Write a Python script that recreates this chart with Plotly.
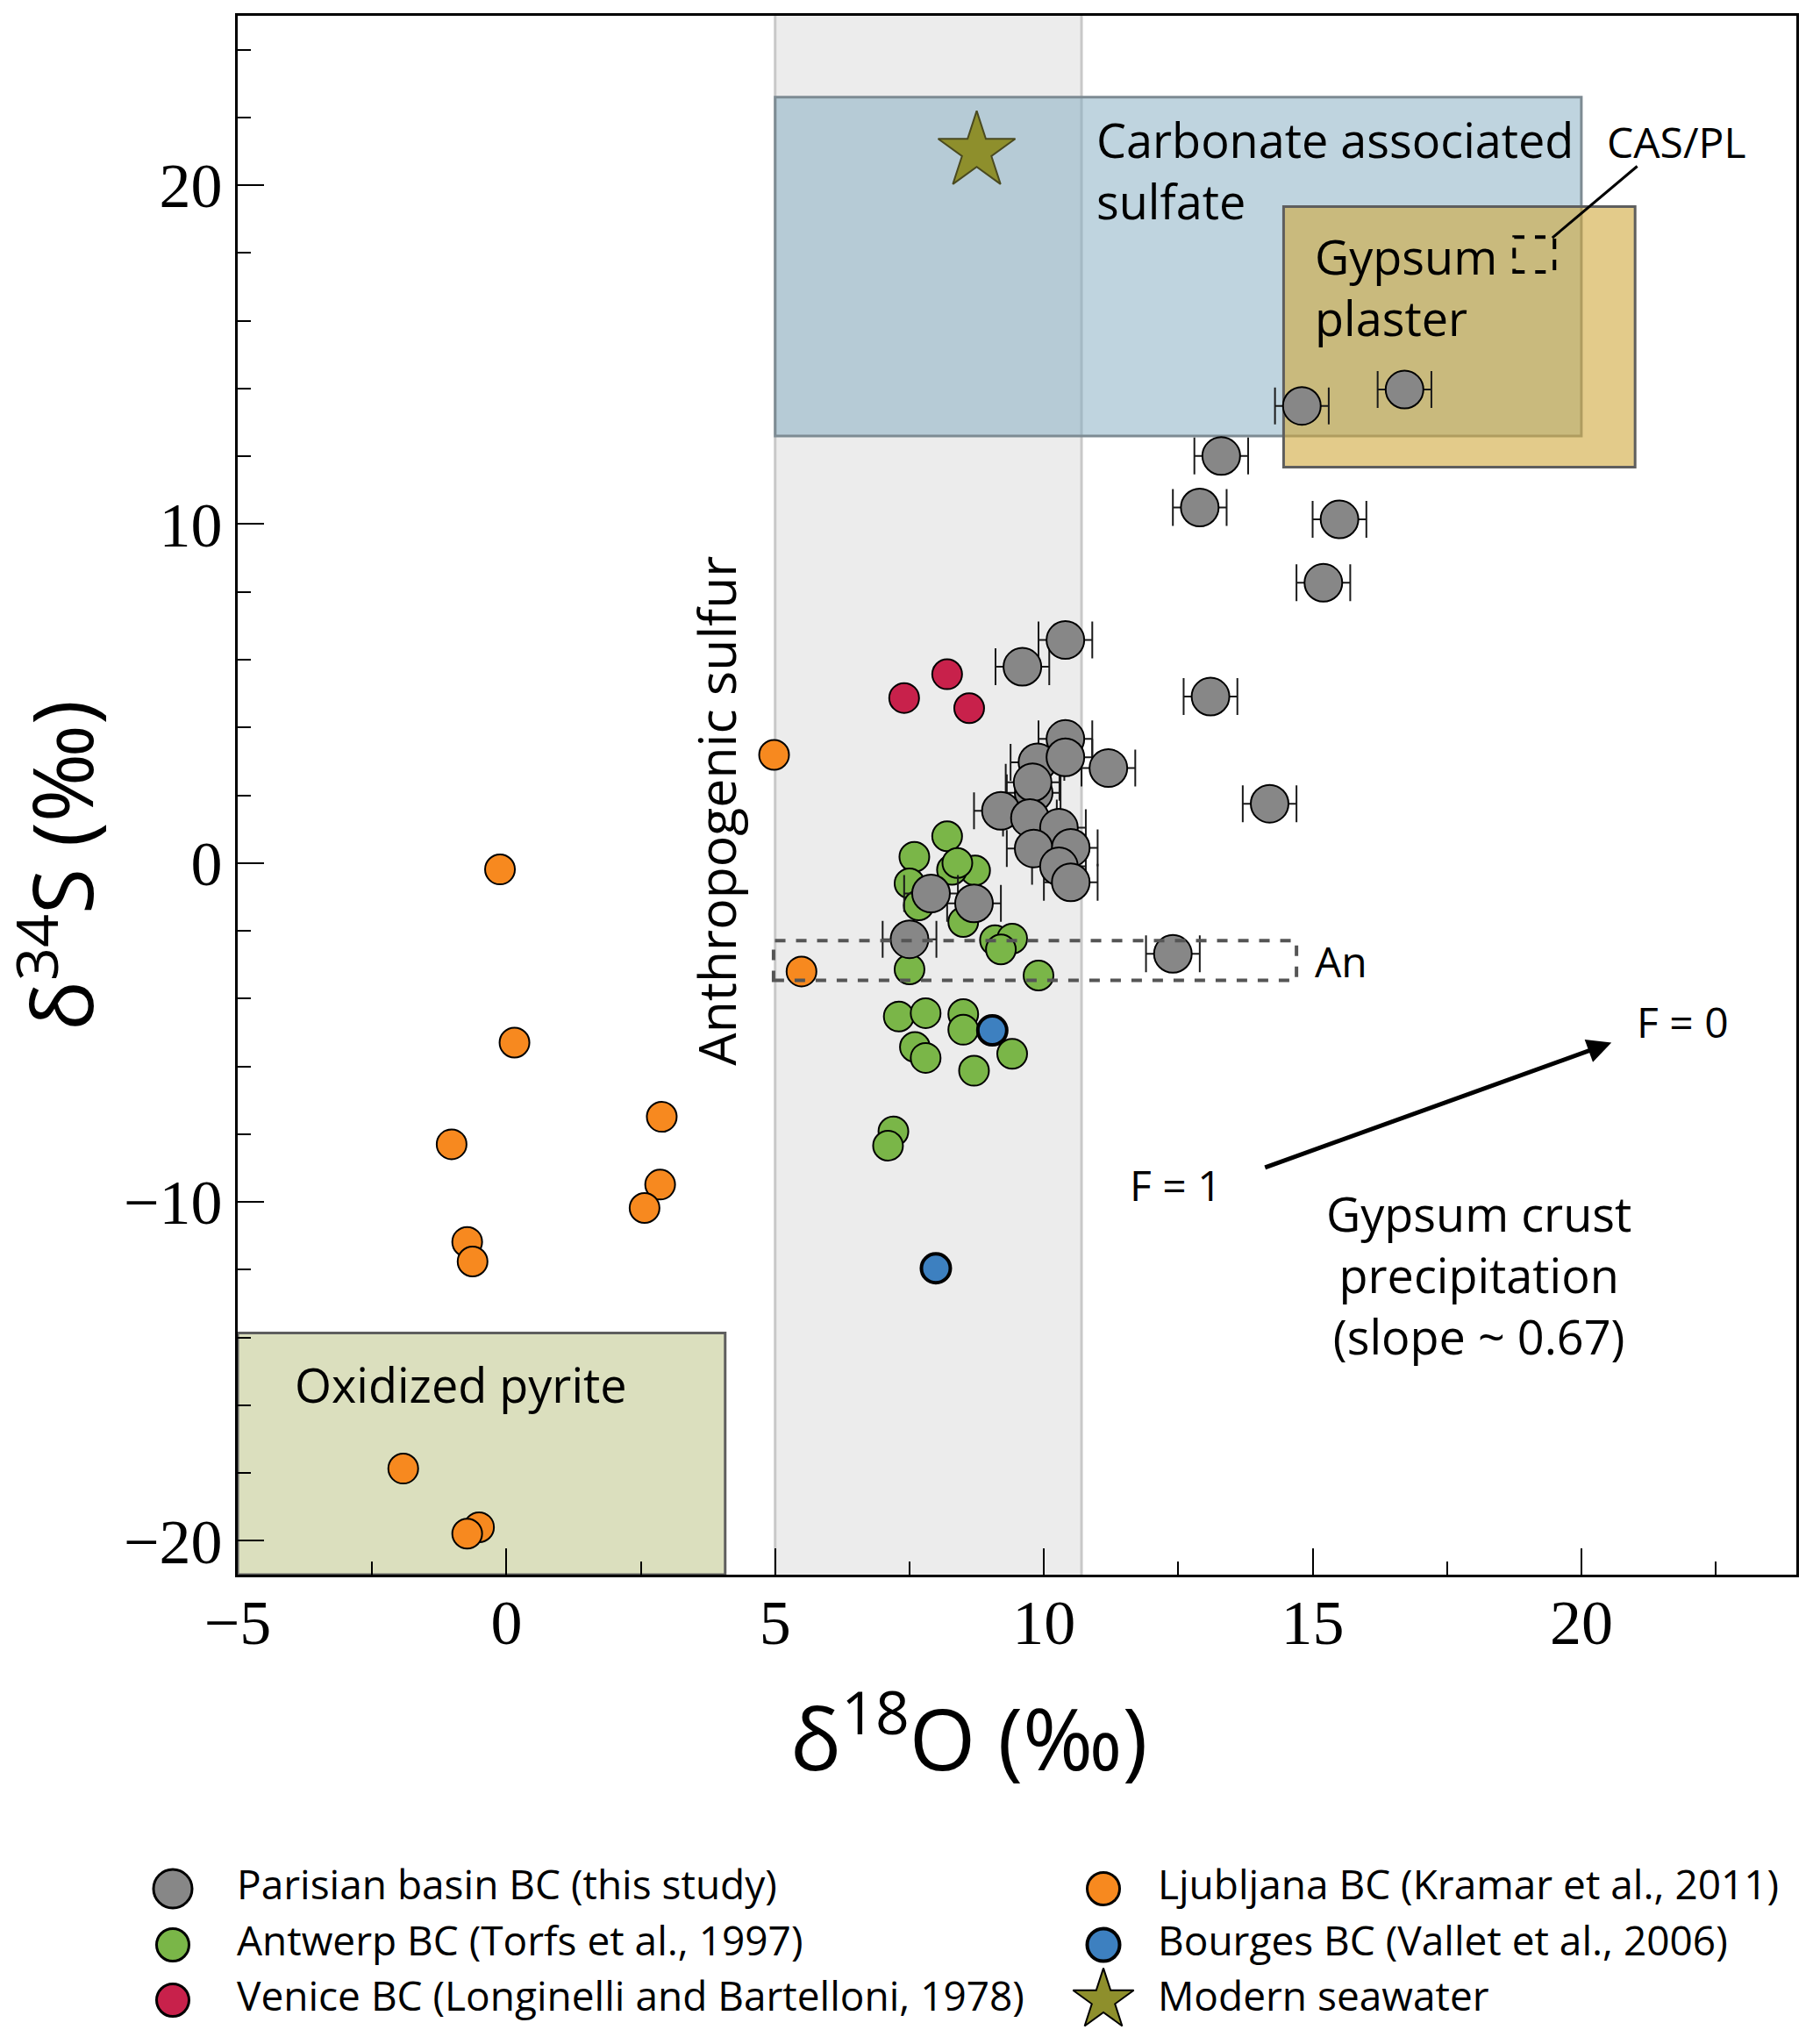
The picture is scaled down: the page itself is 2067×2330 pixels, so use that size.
import plotly.graph_objects as go

W, H = 2067, 2330
OFF = 8  # the page draws the figure 8px down/right, pull the layout back by that much

# Parisian basin BC (this study), with +/- error on d18O
paris_x = [14.80, 16.71, 13.30, 12.90, 15.50, 15.20, 10.40, 9.60, 13.10, 10.40, 9.88, 10.40, 11.20, 9.81,
           9.79, 9.20, 14.20, 9.74, 10.28, 9.81, 10.50, 10.28, 10.50, 7.90, 8.70, 7.50, 12.40]
paris_y = [13.49, 13.97, 12.01, 10.49, 10.14, 8.27, 6.58, 5.79, 4.91, 3.66, 2.97, 3.12, 2.80, 2.07,
           2.38, 1.54, 1.75, 1.33, 1.04, 0.43, 0.45, -0.10, -0.57, -0.90, -1.19, -2.25, -2.68]
paris_err = [0.5, 0.5, 0.5, 0.5, 0.5, 0.5, 0.5, 0.5, 0.5, 0.5, 0.5, 0.5, 0.5, 0.5,
             0.5, 0.5, 0.5, 0.5, 0.5, 0.5, 0.5, 0.5, 0.5, 0.5, 0.5, 0.5, 0.5]

# Antwerp BC (Torfs et al., 1997)
antwerp_x = [8.20, 7.59, 8.72, 8.29, 8.39, 7.50, 7.67, 8.50, 7.50, 9.09, 9.41, 9.20, 9.90, 7.30, 7.80,
             8.50, 8.50, 7.60, 7.80, 9.41, 8.70, 7.20, 7.10]
antwerp_y = [0.79, 0.18, -0.22, -0.20, 0.00, -0.60, -1.25, -1.74, -3.14, -2.28, -2.23, -2.55, -3.32,
             -4.53, -4.43, -4.46, -4.92, -5.43, -5.75, -5.63, -6.13, -7.92, -8.34]

# Venice BC (Longinelli and Bartelloni, 1978)
venice_x = [7.40, 8.20, 8.61]
venice_y = [4.87, 5.57, 4.57]

# Ljubljana BC (Kramar et al., 2011)
ljub_x = [4.98, -0.12, 0.15, -1.02, 2.89, 2.86, 2.57, -0.73, -0.63, 5.49, -1.92, -0.51, -0.73]
ljub_y = [3.19, -0.19, -5.30, -8.30, -7.49, -9.49, -10.18, -11.18, -11.76, -3.20, -17.87, -19.60, -19.79]

# Bourges BC (Vallet et al., 2006)
bourges_x = [9.04, 7.99]
bourges_y = [-4.94, -11.96]

# Modern seawater
sea_x = [8.75]
sea_y = [21.0]

# source fields (x0, x1, y0, y1)
anthro_box = (5.0, 10.7)
cas_box = (5.0, 20.0, 12.6, 22.6)
gyp_box = (14.46, 21.0, 11.68, 19.37)
pyrite_box = (-5.0, 4.07, -21.0, -13.87)
an_box = (4.97, 14.7, -3.46, -2.29)
caspl_box = (18.75, 19.5, 17.44, 18.47)

legend_names = ["Parisian basin BC (this study)", "Ljubljana BC (Kramar et al., 2011)",
                "Antwerp BC (Torfs et al., 1997)", "Bourges BC (Vallet et al., 2006)",
                "Venice BC (Longinelli and Bartelloni, 1978)", "Modern seawater"]

FONT = "Open Sans"
GRAY = "#878787"
GREEN = "#7ab648"
RED = "#c8214b"
ORANGE = "#f7891f"
BLUE = "#3d80c0"
OLIVE = "#8e8f2c"

fig = go.Figure()


def circles(x, y, color, size, lw=2, **kw):
    return go.Scatter(x=x, y=y, mode="markers", showlegend=False, hoverinfo="skip",
                      marker=dict(size=size, color=color, opacity=1,
                                  line=dict(color="black", width=lw)), **kw)


fig.add_trace(circles(ljub_x, ljub_y, ORANGE, 34))
fig.add_trace(circles(antwerp_x, antwerp_y, GREEN, 34))
fig.add_trace(circles(venice_x, venice_y, RED, 34))
fig.add_trace(circles(bourges_x, bourges_y, BLUE, 33, lw=4))
fig.add_trace(circles(paris_x, paris_y, GRAY, 43,
                      error_x=dict(type="data", array=paris_err, color="#1a1a1a", thickness=2, width=21)))
fig.add_trace(go.Scatter(x=sea_x, y=sea_y, mode="markers", showlegend=False, hoverinfo="skip",
                         marker=dict(symbol="star", size=66, color=OLIVE, opacity=1,
                                     line=dict(color="#4a4a20", width=2))))

# shaded fields
shapes = [
    dict(type="rect", yref="y domain", x0=anthro_box[0], x1=anthro_box[1], y0=0, y1=1,
         fillcolor="#ececec", line=dict(width=0), layer="below"),
    dict(type="line", yref="y domain", x0=anthro_box[0], x1=anthro_box[0], y0=0, y1=1,
         line=dict(color="#c8c8c8", width=3), layer="below"),
    dict(type="line", yref="y domain", x0=anthro_box[1], x1=anthro_box[1], y0=0, y1=1,
         line=dict(color="#c8c8c8", width=3), layer="below"),
    dict(type="rect", x0=cas_box[0], x1=cas_box[1], y0=cas_box[2], y1=cas_box[3],
         fillcolor="rgba(128,170,192,0.5)", line=dict(color="#7d8b93", width=3), layer="below"),
    dict(type="rect", x0=gyp_box[0], x1=gyp_box[1], y0=gyp_box[2], y1=gyp_box[3],
         fillcolor="rgba(208,168,60,0.6)", line=dict(color="#5e5e5e", width=3), layer="below"),
    dict(type="rect", x0=pyrite_box[0], x1=pyrite_box[1], y0=pyrite_box[2], y1=pyrite_box[3],
         fillcolor="#dbdfbe", line=dict(color="#5e5e5e", width=3), layer="below"),
    dict(type="rect", x0=an_box[0], x1=an_box[1], y0=an_box[2], y1=an_box[3],
         line=dict(color="#555555", width=4, dash="dash"), layer="above"),
    dict(type="rect", x0=caspl_box[0], x1=caspl_box[1], y0=caspl_box[2], y1=caspl_box[3],
         line=dict(color="black", width=4, dash="dash"), layer="above"),
    dict(type="line", x0=19.46, y0=18.45, x1=21.04, y1=20.56, line=dict(color="black", width=3)),
]
for s in shapes:
    s.setdefault("xref", "x")
    s.setdefault("yref", "y")
fig.update_layout(shapes=shapes)


def note(text, x, y, size=54, anchor="left", **kw):
    fig.add_annotation(text=text, x=x, y=y, xref="x", yref="y", showarrow=False, xanchor=anchor,
                       yanchor="middle", align=anchor if anchor != "center" else "center",
                       font=dict(family=FONT, size=size, color="black"), **kw)


note("Carbonate associated<br>sulfate", 10.94, 20.45)
note("Gypsum<br>plaster", 15.0, 17.0)
note("CAS/PL", 20.44, 21.29, size=48)
note("Oxidized pyrite", -3.98, -15.37)
note("An", 15.01, -2.88, size=48)
note("F = 0", 21.0, -4.69, size=48)
note("F = 1", 11.57, -9.49, size=48)
note("Gypsum crust<br>precipitation<br>(slope ~ 0.67)", 18.09, -12.15, anchor="center")
note("Anthropogenic sulfur", 3.9, 1.54, size=59, anchor="center", textangle=-90)

# arrow for gypsum crust precipitation
fig.add_annotation(x=20.56, y=-5.30, ax=14.09, ay=-9.0, xref="x", yref="y", axref="x", ayref="y",
                   text="", showarrow=True, arrowhead=2, arrowsize=1.1, arrowwidth=5, arrowcolor="black")


def px(v):
    return (v - OFF) / W


def py(v):
    return 1 - (v - OFF) / H


# axis titles
fig.add_annotation(text="δ<sup>18</sup>O (‰)", x=px(1104), y=py(1975), xref="paper", yref="paper",
                   showarrow=False, xanchor="center", yanchor="middle",
                   font=dict(family=FONT, size=97, color="black"))
fig.add_annotation(text="δ<sup>34</sup>S (‰)", x=px(64), y=py(987), xref="paper", yref="paper",
                   showarrow=False, xanchor="center", yanchor="middle", textangle=-90,
                   font=dict(family=FONT, size=95, color="black"))

# manual legend below the plot (two columns)
leg_col_x = [197, 1258]
leg_row_y = [2153, 2217, 2280]
leg_text_gap = [73, 62]
leg_colors = [GRAY, ORANGE, GREEN, BLUE, RED, OLIVE]
leg_sizes = [44, 37, 37, 37, 37, 52]
leg_symbols = ["circle", "circle", "circle", "circle", "circle", "star"]
leg_lw = [3, 3, 3, 4, 3, 2]
lx = [leg_col_x[i % 2] - OFF for i in range(len(legend_names))]
ly = [leg_row_y[i // 2] - OFF for i in range(len(legend_names))]
tx = [lx[i] + leg_text_gap[i % 2] for i in range(len(legend_names))]
fig.add_trace(go.Scatter(x=lx, y=ly, xaxis="x2", yaxis="y2", mode="markers", showlegend=False,
                         hoverinfo="skip",
                         marker=dict(size=leg_sizes, color=leg_colors, symbol=leg_symbols, opacity=1,
                                     line=dict(color="black", width=leg_lw))))
fig.add_trace(go.Scatter(x=tx, y=ly, xaxis="x2", yaxis="y2", mode="text",
                         text=legend_names, textposition="middle right", showlegend=False,
                         hoverinfo="skip", textfont=dict(family=FONT, size=46, color="black")))

axis_common = dict(showgrid=False, zeroline=False, showline=True, linecolor="black", linewidth=3,
                   mirror=True, ticks="inside", ticklen=30, tickwidth=2, tickcolor="black",
                   automargin=False,
                   tickfont=dict(family="Liberation Serif", size=72, color="black"))

fig.update_layout(
    width=W, height=H,
    margin=dict(l=0, r=0, t=0, b=0, autoexpand=False),
    paper_bgcolor="white", plot_bgcolor="rgba(0,0,0,0)",
    showlegend=False,
    xaxis=dict(range=[-5, 24], domain=[px(271), px(2048)], tick0=-5, dtick=5,
               minor=dict(dtick=2.5, ticklen=15, tickwidth=2, tickcolor="black", ticks="inside"),
               ticklabelstandoff=-10, **axis_common),
    yaxis=dict(range=[-21, 25], domain=[py(1795), py(18)], tick0=0, dtick=10,
               minor=dict(dtick=2, ticklen=15, tickwidth=2, tickcolor="black", ticks="inside"),
               ticklabelstandoff=0, **axis_common),
    xaxis2=dict(domain=[0, 1], range=[0, W], visible=False, anchor="y2", automargin=False),
    yaxis2=dict(domain=[0, py(2100)], range=[H, 2100 - OFF], visible=False, anchor="x2", automargin=False),
)

fig.write_html("out.html")
